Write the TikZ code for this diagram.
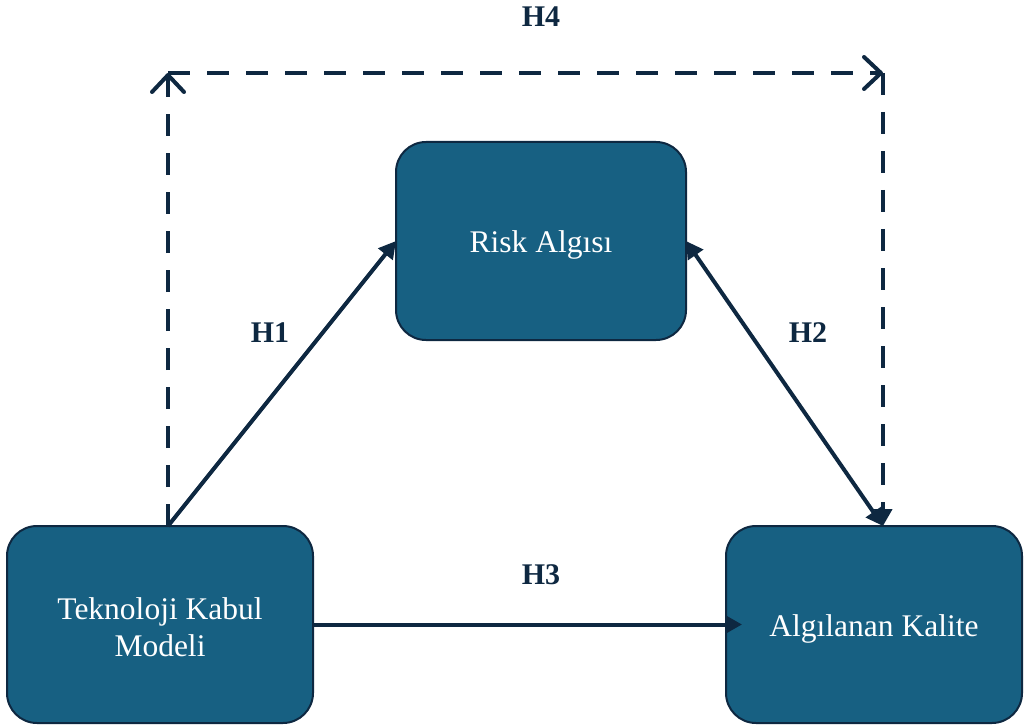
\documentclass[tikz,border=0pt]{standalone}
\usepackage{fontspec}
\setmainfont{Liberation Serif}
\usetikzlibrary{arrows.meta,calc}
\definecolor{boxfill}{HTML}{176082}
\definecolor{navy}{HTML}{0E2841}
\tikzset{
  box/.style={draw=navy, line width=2pt, fill=boxfill, rounded corners=30pt,
    outer sep=0pt, inner sep=0pt},
  boxtext/.style={text=white, align=center, inner sep=0pt,
    font=\fontsize{31.5}{37}\selectfont},
  hlabel/.style={text=navy, font=\fontsize{30}{34}\selectfont\bfseries},
  link/.style={draw=navy, line width=4pt},
  dashlink/.style={link, dash pattern=on 22pt off 17pt},
  solidtip/.tip={Triangle[length=17pt,width=18pt]},
  opentip/.tip={Straight Barb[length=17pt,width=32pt,line cap=round,line join=round]}
}
\begin{document}
\begin{tikzpicture}[x=1pt,y=-1pt]
\useasboundingbox (0,0) rectangle (1024,727);

% the three constructs
\node[box, minimum width=306pt, minimum height=197pt] (tkm) at (160,624.5) {};
\node[box, minimum width=290pt, minimum height=198pt] (risk) at (541,241) {};
\node[box, minimum width=296pt, minimum height=197pt] (ak) at (874,624.5) {};

% their captions, set slightly below the geometric centre
\node[boxtext] (tkm-t) at ($(tkm.center)+(0,3)$) {Teknoloji Kabul\\Modeli};
\node[boxtext] (risk-t) at ($(risk.center)+(0,4)$) {Risk Algısı};
\node[boxtext] (ak-t) at ($(ak.center)+(0,4)$) {Algılanan Kalite};

% anchor points for the connectors
\coordinate (src) at ($(tkm.north)+(8,0)$);
\coordinate (dst) at ($(ak.north)+(9,0)$);
\coordinate (tl) at (src |- 0,73);
\coordinate (tr) at (dst |- 0,73);
\coordinate (h3end) at ($(ak.west)+(16,0)$);

% H4: dashed indirect path over the top
\draw[dashlink, -{opentip}] (src) -- (tl);
\draw[dashlink, -{opentip}] (tl) -- (tr);
\draw[dashlink, -{solidtip}] (tr) -- (dst);

% H1, H2, H3
\draw[link, -{solidtip}] (src) -- (risk.west);
\draw[link, {solidtip}-{solidtip}] (risk.east) -- (dst);
\draw[link, -{solidtip}] (tkm.east) -- (h3end);

% hypothesis labels
\node[hlabel] (l4) at (541,17) {H4};
\node[hlabel] (l1) at (270,333) {H1};
\node[hlabel] (l2) at (808,333) {H2};
\node[hlabel] (l3) at (541,575) {H3};
\end{tikzpicture}
\end{document}
